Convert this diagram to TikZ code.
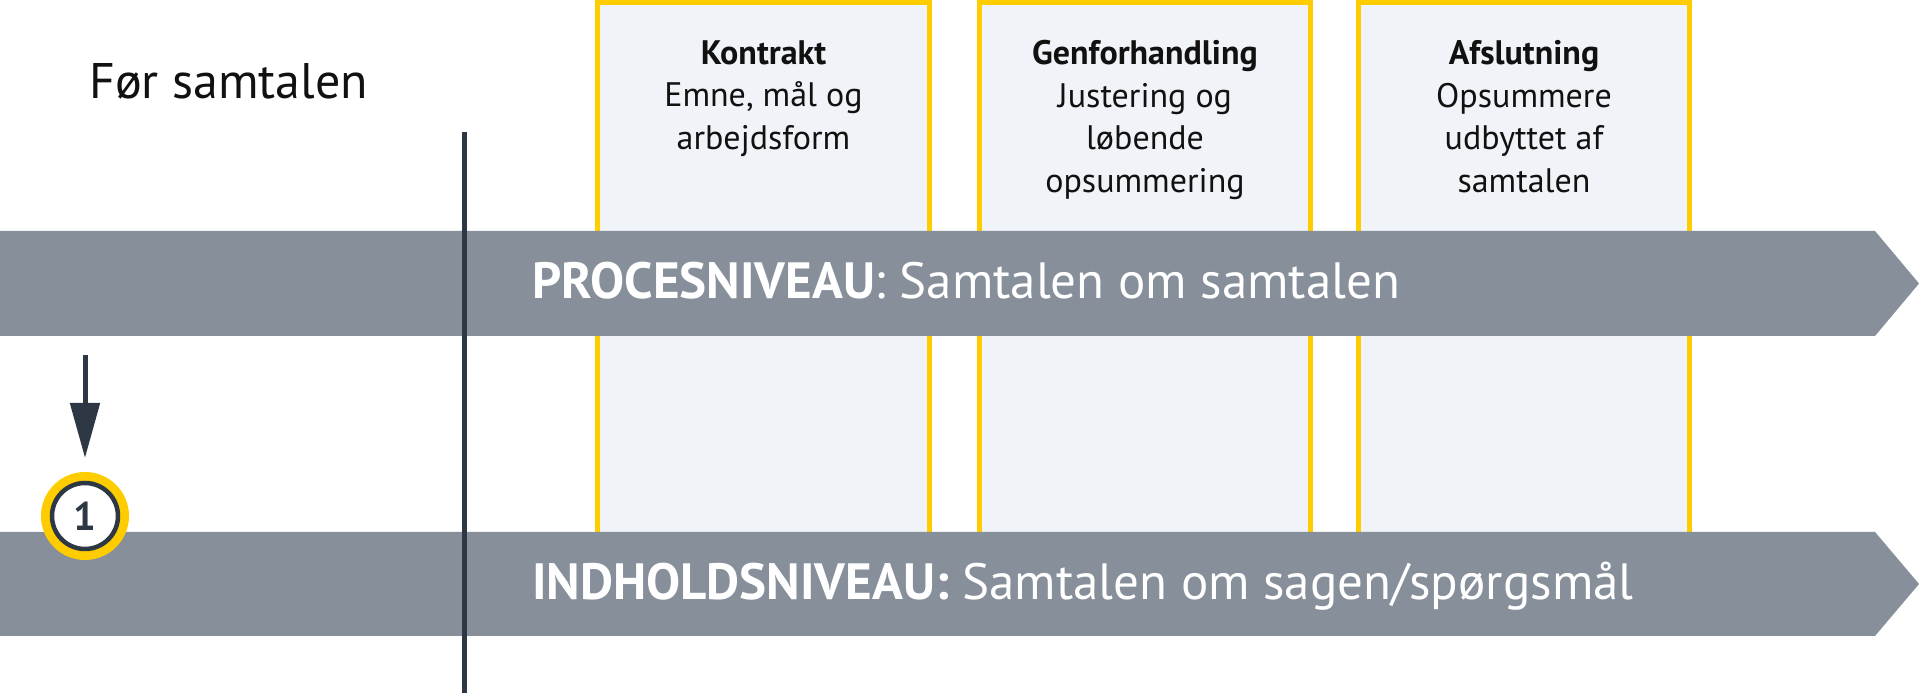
\documentclass[tikz,border=0pt]{standalone}
\usepackage{fontspec}
\setmainfont{PT Sans}
\usetikzlibrary{arrows.meta}
\definecolor{bandgray}{HTML}{868F9A}
\definecolor{darkslate}{HTML}{2E3744}
\definecolor{phaseyellow}{HTML}{FFCC00}
\definecolor{phasefill}{HTML}{F0F3F7}
\definecolor{inkblack}{HTML}{111111}
\tikzset{
  phasebox/.style={draw=phaseyellow, line width=5pt, fill=phasefill},
  phasetext/.style={align=center, inner sep=0pt, anchor=north, text=inkblack,
    font=\fontsize{34}{42.5}\selectfont},
  band/.style={fill=bandgray},
  bandtext/.style={inner sep=0pt, anchor=base west, text=white,
    font=\fontsize{51}{60}\selectfont},
  divider/.style={draw=darkslate, line width=5pt},
  downarrow/.style={draw=darkslate, line width=5pt, -{Triangle[length=55pt,width=29pt]}},
}
\begin{document}
\begin{tikzpicture}[x=1pt,y=1pt]
\useasboundingbox (0,0) rectangle (1920,693);
% phase boxes
\draw[phasebox] (597.5,100) rectangle (929.5,690.5);
\draw[phasebox] (979.5,100) rectangle (1310.5,690.5);
\draw[phasebox] (1358.5,100) rectangle (1689.5,690.5);
\node[phasetext] (kontrakt) at (763.5,652.5) {\textbf{Kontrakt}\\Emne, mål og\\arbejdsform};
\node[phasetext] (genforh) at (1145,652.5) {\textbf{Genforhandling}\\Justering og\\løbende\\opsummering};
\node[phasetext] (afslut) at (1524,652.5) {\textbf{Afslutning}\\Opsummere\\udbyttet af\\samtalen};
% bands
\fill[band] (0,357) -- (1875,357) -- (1919,409.5) -- (1875,462) -- (0,462) -- cycle;
\fill[band] (0,57) -- (1875,57) -- (1919,109) -- (1875,161) -- (0,161) -- cycle;
\node[bandtext] (proces) at (532,394.5) {\textbf{PROCESNIVEAU}: Samtalen om samtalen};
\node[bandtext] (indhold) at (532,93) {\textbf{INDHOLDSNIVEAU:} Samtalen om sagen/spørgsmål};
% before label
\node[inner sep=0pt, anchor=base west, text=inkblack, font=\fontsize{50}{60}\selectfont] (foer) at (89,594) {Før samtalen};
% divider
\coordinate (divtop) at (464,561);
\coordinate (divbot) at (464,0);
\draw[divider] (divtop) -- (divbot);
% arrow and badge
\coordinate (arrtop) at (85,338);
\coordinate (arrtip) at (85,235);
\draw[downarrow] (arrtop) -- (arrtip);
\node[circle, fill=phaseyellow, minimum size=88pt, inner sep=0pt] (badgering) at (85,177) {};
\node[circle, draw=darkslate, line width=4.5pt, fill=white, minimum size=66pt, inner sep=0pt,
  text=darkslate, font=\fontsize{40}{48}\selectfont\bfseries] (badge) at (85,177) {1};
\end{tikzpicture}
\end{document}
